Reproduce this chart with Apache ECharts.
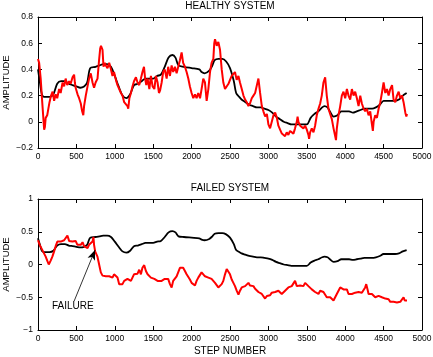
<!DOCTYPE html>
<html><head><meta charset="utf-8">
<script src="https://cdn.jsdelivr.net/npm/echarts@6/dist/echarts.min.js"></script>
<style>html,body{margin:0;padding:0;background:#fff}#c{width:433px;height:357px}</style>
</head><body><div id="c"></div>
<script>
// Reference (black) curve, same in both panels: [step, amplitude]
const referenceBlack = [[0,0.40],[25,0.30],[50,0.21],[80,0.19],[150,0.19],[200,0.21],[250,0.29],[300,0.31],[350,0.31],[400,0.29],[450,0.28],[500,0.27],[550,0.26],[600,0.27],[640,0.30],[680,0.41],[750,0.42],[800,0.43],[850,0.44],[900,0.44],[950,0.42],[1000,0.35],[1050,0.27],[1100,0.20],[1150,0.18],[1200,0.21],[1250,0.28],[1300,0.29],[1350,0.31],[1400,0.33],[1450,0.33],[1500,0.33],[1550,0.35],[1600,0.36],[1650,0.42],[1700,0.49],[1750,0.51],[1790,0.49],[1830,0.43],[1900,0.42],[2000,0.41],[2100,0.40],[2130,0.38],[2170,0.37],[2230,0.39],[2270,0.43],[2300,0.47],[2350,0.48],[2400,0.48],[2450,0.46],[2500,0.41],[2550,0.31],[2580,0.22],[2620,0.19],[2650,0.17],[2700,0.15],[2750,0.13],[2800,0.12],[2850,0.11],[2900,0.11],[2950,0.10],[3000,0.09],[3050,0.07],[3100,0.04],[3150,0.02],[3200,0.0],[3250,-0.01],[3300,-0.02],[3400,-0.02],[3500,-0.02],[3550,0.03],[3600,0.06],[3650,0.08],[3700,0.11],[3730,0.12],[3770,0.11],[3800,0.08],[3850,0.04],[3900,0.05],[3950,0.08],[4000,0.08],[4050,0.08],[4100,0.07],[4150,0.08],[4200,0.09],[4250,0.10],[4300,0.10],[4350,0.10],[4400,0.11],[4450,0.13],[4500,0.16],[4550,0.16],[4600,0.16],[4650,0.16],[4700,0.17],[4750,0.20],[4800,0.22]];

const healthyRed = [[0,0.48],[15,0.45],[35,0.33],[55,0.15],[80,-0.06],[90,-0.04],[100,0.03],[120,0.05],[135,0.1],[150,0.15],[170,0.2],[190,0.23],[210,0.16],[230,0.21],[250,0.18],[275,0.25],[295,0.22],[320,0.3],[340,0.27],[360,0.33],[380,0.28],[405,0.31],[425,0.29],[450,0.34],[470,0.36],[480,0.3],[490,0.26],[515,0.21],[535,0.18],[557,0.14],[575,0.08],[590,0.05],[600,0.12],[622,0.2],[645,0.27],[665,0.33],[687,0.37],[710,0.3],[730,0.26],[750,0.3],[775,0.33],[795,0.47],[810,0.56],[820,0.58],[840,0.55],[853,0.42],[870,0.45],[883,0.43],[905,0.41],[927,0.45],[950,0.4],[970,0.35],[990,0.38],[1014,0.32],[1035,0.28],[1057,0.27],[1080,0.22],[1100,0.2],[1122,0.15],[1145,0.14],[1165,0.12],[1175,0.1],[1190,0.18],[1210,0.22],[1230,0.27],[1250,0.31],[1275,0.34],[1296,0.3],[1318,0.28],[1340,0.33],[1360,0.38],[1380,0.42],[1395,0.33],[1410,0.28],[1427,0.33],[1450,0.25],[1470,0.35],[1492,0.27],[1515,0.25],[1535,0.35],[1557,0.3],[1575,0.22],[1590,0.24],[1610,0.3],[1630,0.38],[1650,0.4],[1675,0.33],[1695,0.42],[1718,0.35],[1740,0.43],[1760,0.38],[1783,0.42],[1805,0.37],[1826,0.42],[1848,0.47],[1870,0.53],[1890,0.45],[1913,0.42],[1935,0.38],[1957,0.33],[1978,0.27],[2000,0.22],[2022,0.18],[2044,0.21],[2065,0.18],[2087,0.22],[2110,0.18],[2130,0.25],[2152,0.33],[2174,0.3],[2196,0.16],[2218,0.25],[2240,0.38],[2260,0.45],[2283,0.48],[2295,0.6],[2305,0.63],[2327,0.58],[2348,0.61],[2370,0.55],[2392,0.4],[2413,0.3],[2435,0.25],[2457,0.24],[2480,0.29],[2500,0.32],[2522,0.35],[2544,0.36],[2565,0.38],[2587,0.32],[2610,0.35],[2630,0.3],[2653,0.25],[2675,0.2],[2697,0.17],[2718,0.15],[2740,0.12],[2760,0.14],[2783,0.18],[2805,0.2],[2827,0.22],[2850,0.28],[2870,0.33],[2892,0.22],[2914,0.12],[2935,0.08],[2957,0.04],[2980,0.06],[3000,-0.02],[3022,-0.05],[3044,0.0],[3066,0.05],[3088,0.07],[3110,0.03],[3130,-0.03],[3152,-0.06],[3175,-0.09],[3195,-0.08],[3217,-0.11],[3239,-0.08],[3260,-0.1],[3282,-0.07],[3304,-0.06],[3326,-0.09],[3347,-0.05],[3370,0.0],[3380,0.04],[3391,0.0],[3413,-0.03],[3435,-0.02],[3456,-0.05],[3478,-0.03],[3500,-0.06],[3521,-0.1],[3530,-0.13],[3543,-0.08],[3565,-0.05],[3587,-0.08],[3608,-0.03],[3630,0.05],[3652,0.1],[3674,0.14],[3695,0.2],[3717,0.3],[3739,0.34],[3760,0.2],[3782,0.1],[3804,0.06],[3826,0.02],[3848,-0.05],[3870,-0.11],[3880,-0.14],[3891,-0.05],[3913,0.05],[3935,0.12],[3956,0.2],[3978,0.23],[4000,0.18],[4022,0.25],[4043,0.2],[4065,0.17],[4087,0.25],[4109,0.2],[4130,0.23],[4152,0.18],[4174,0.12],[4196,0.2],[4217,0.14],[4240,0.1],[4260,0.08],[4282,0.1],[4304,0.05],[4326,0.08],[4348,-0.02],[4360,-0.07],[4370,0.0],[4391,0.05],[4413,0.03],[4435,0.1],[4457,0.15],[4478,0.22],[4500,0.3],[4522,0.22],[4544,0.25],[4565,0.2],[4587,0.25],[4610,0.28],[4630,0.17],[4652,0.15],[4674,0.2],[4696,0.23],[4717,0.18],[4740,0.2],[4760,0.15],[4783,0.07],[4796,0.04],[4805,0.06]];

const failedRed = [[0,0.37],[22,0.3],[57,0.22],[100,0.12],[120,0.06],[140,0.0],[165,0.06],[187,0.12],[210,0.2],[230,0.28],[252,0.35],[275,0.33],[296,0.35],[317,0.32],[340,0.37],[360,0.4],[383,0.44],[405,0.36],[426,0.33],[448,0.35],[470,0.32],[490,0.36],[513,0.3],[535,0.33],[557,0.3],[580,0.34],[600,0.28],[622,0.3],[645,0.25],[665,0.3],[687,0.28],[710,0.35],[722,0.42],[730,0.3],[744,0.2],[760,0.17],[774,0.12],[787,0.05],[805,-0.05],[818,-0.12],[840,-0.17],[860,-0.15],[883,-0.18],[905,-0.15],[927,-0.18],[950,-0.16],[970,-0.2],[990,-0.15],[1014,-0.17],[1035,-0.2],[1057,-0.3],[1080,-0.33],[1100,-0.3],[1122,-0.25],[1145,-0.28],[1165,-0.22],[1190,-0.2],[1210,-0.25],[1230,-0.2],[1250,-0.15],[1275,-0.18],[1296,-0.14],[1318,-0.08],[1340,-0.15],[1360,-0.05],[1383,-0.01],[1405,-0.1],[1427,-0.15],[1450,-0.18],[1470,-0.2],[1492,-0.17],[1515,-0.22],[1535,-0.2],[1557,-0.25],[1580,-0.23],[1610,-0.25],[1630,-0.27],[1650,-0.22],[1675,-0.25],[1695,-0.22],[1718,-0.3],[1740,-0.35],[1760,-0.25],[1783,-0.23],[1805,-0.18],[1826,-0.15],[1848,-0.05],[1870,-0.03],[1890,-0.05],[1913,-0.1],[1935,-0.15],[1957,-0.18],[1978,-0.23],[2000,-0.28],[2022,-0.3],[2044,-0.32],[2065,-0.25],[2087,-0.2],[2110,-0.17],[2130,-0.12],[2152,-0.14],[2174,-0.18],[2196,-0.15],[2218,-0.2],[2240,-0.2],[2260,-0.22],[2283,-0.25],[2305,-0.28],[2327,-0.3],[2348,-0.35],[2370,-0.36],[2392,-0.3],[2413,-0.25],[2435,-0.15],[2457,-0.07],[2480,-0.1],[2500,-0.15],[2522,-0.23],[2544,-0.28],[2565,-0.33],[2587,-0.4],[2610,-0.46],[2630,-0.4],[2653,-0.35],[2675,-0.37],[2697,-0.33],[2718,-0.3],[2740,-0.28],[2760,-0.32],[2783,-0.3],[2805,-0.33],[2827,-0.37],[2850,-0.4],[2870,-0.42],[2892,-0.4],[2914,-0.45],[2935,-0.48],[2957,-0.52],[2980,-0.48],[3000,-0.45],[3022,-0.47],[3044,-0.43],[3066,-0.45],[3088,-0.42],[3110,-0.45],[3130,-0.4],[3152,-0.43],[3174,-0.45],[3195,-0.42],[3217,-0.4],[3239,-0.38],[3260,-0.35],[3282,-0.37],[3304,-0.33],[3326,-0.3],[3347,-0.25],[3370,-0.33],[3391,-0.35],[3413,-0.32],[3435,-0.35],[3456,-0.33],[3478,-0.28],[3500,-0.27],[3521,-0.33],[3543,-0.35],[3565,-0.38],[3587,-0.4],[3608,-0.42],[3630,-0.4],[3652,-0.45],[3674,-0.4],[3695,-0.38],[3717,-0.42],[3739,-0.45],[3760,-0.5],[3782,-0.53],[3804,-0.5],[3826,-0.48],[3848,-0.55],[3870,-0.52],[3891,-0.45],[3913,-0.42],[3935,-0.35],[3956,-0.36],[3978,-0.38],[4000,-0.4],[4022,-0.38],[4043,-0.45],[4065,-0.42],[4087,-0.45],[4109,-0.47],[4130,-0.43],[4152,-0.45],[4174,-0.42],[4196,-0.45],[4217,-0.43],[4240,-0.4],[4260,-0.35],[4274,-0.3],[4295,-0.4],[4304,-0.45],[4326,-0.47],[4348,-0.45],[4370,-0.48],[4391,-0.5],[4413,-0.47],[4435,-0.48],[4457,-0.45],[4478,-0.5],[4500,-0.48],[4522,-0.52],[4544,-0.5],[4565,-0.53],[4587,-0.57],[4610,-0.55],[4630,-0.57],[4652,-0.6],[4674,-0.58],[4696,-0.6],[4717,-0.57],[4740,-0.55],[4760,-0.5],[4775,-0.55],[4790,-0.53],[4805,-0.55]];

// Failure annotation: arrow from label to failure point [step, amplitude]
const failureArrowFrom = [470, -0.56];
const failureArrowTo = [743, 0.22];

const FONT = 'Liberation Sans, Arial, Helvetica, sans-serif';
const fmtY = v => String(v).replace('-', '\u2212');
const fmtX = v => String(v);

function xAx(grid, pos, showLabel, name) {
  return {
    type: 'value', gridIndex: grid, position: pos, min: 0, max: 5000, interval: 500,
    axisLine: { show: true, onZero: false, lineStyle: { color: '#000', width: 1 } },
    axisTick: { show: true, inside: true, length: 4, lineStyle: { color: '#000' } },
    axisLabel: { show: showLabel, color: '#000', fontSize: 8.5, fontFamily: FONT, margin: 4, formatter: fmtX },
    splitLine: { show: false },
    name: name || '', nameLocation: 'middle', nameGap: 16, nameMoveOverlap: false,
    nameTextStyle: { color: '#000', fontSize: 10, fontFamily: FONT }
  };
}
function yAx(grid, pos, min, max, interval, showLabel, name) {
  return {
    type: 'value', gridIndex: grid, position: pos, min: min, max: max, interval: interval,
    axisLine: { show: true, onZero: false, lineStyle: { color: '#000', width: 1 } },
    axisTick: { show: true, inside: true, length: 4, lineStyle: { color: '#000' } },
    axisLabel: { show: showLabel, color: '#000', fontSize: 8.5, fontFamily: FONT, margin: 5, formatter: fmtY },
    splitLine: { show: false },
    name: name || '', nameLocation: 'middle', nameGap: 27, nameRotate: 90, nameMoveOverlap: false,
    nameTextStyle: { color: '#000', fontSize: 9.5, fontFamily: FONT }
  };
}

const chart = echarts.init(document.getElementById('c'), null, { renderer: 'canvas' });
chart.setOption({
  animation: false,
  backgroundColor: '#fff',
  title: [
    { text: 'HEALTHY SYSTEM', left: 230, top: 1, padding: 0, textAlign: 'center',
      textStyle: { fontSize: 10, fontWeight: 'normal', color: '#000', fontFamily: FONT } },
    { text: 'FAILED SYSTEM', left: 230, top: 183, padding: 0, textAlign: 'center',
      textStyle: { fontSize: 10, fontWeight: 'normal', color: '#000', fontFamily: FONT } }
  ],
  grid: [
    { left: 38, top: 17, width: 384, height: 131, containLabel: false, outerBoundsMode: 'none' },
    { left: 38, top: 199, width: 384, height: 131, containLabel: false, outerBoundsMode: 'none' }
  ],
  xAxis: [
    xAx(0, 'bottom', true),
    xAx(0, 'top', false),
    xAx(1, 'bottom', true, 'STEP NUMBER'),
    xAx(1, 'top', false)
  ],
  yAxis: [
    yAx(0, 'left', -0.2, 0.8, 0.2, true, 'AMPLITUDE'),
    yAx(0, 'right', -0.2, 0.8, 0.2, false),
    yAx(1, 'left', -1, 1, 0.5, true, 'AMPLITUDE'),
    yAx(1, 'right', -1, 1, 0.5, false)
  ],
  series: [
    { type: 'line', xAxisIndex: 0, yAxisIndex: 0, data: referenceBlack, showSymbol: false, smooth: 0.3,
      lineStyle: { color: '#000', width: 1.8 } },
    { type: 'line', xAxisIndex: 0, yAxisIndex: 0, data: healthyRed, showSymbol: false,
      lineStyle: { color: '#ff0000', width: 2 } },
    { type: 'line', xAxisIndex: 2, yAxisIndex: 2, data: referenceBlack, showSymbol: false, smooth: 0.3,
      lineStyle: { color: '#000', width: 1.8 } },
    { type: 'line', xAxisIndex: 2, yAxisIndex: 2, data: failedRed, showSymbol: false,
      lineStyle: { color: '#ff0000', width: 2 },
      markLine: {
        silent: true, animation: false, symbol: ['none', 'arrow'], symbolSize: [0, 8],
        label: { show: false },
        emphasis: { disabled: true },
        lineStyle: { color: '#000', width: 0.8, type: 'solid' },
        data: [[{ coord: failureArrowFrom }, { coord: failureArrowTo, symbol: 'arrow', symbolSize: [6, 10],
          itemStyle: { color: '#000' } }]]
      }
    }
  ],
  graphic: [
    { type: 'text', left: 52, top: 301,
      style: { text: 'FAILURE', fontSize: 10, fontFamily: FONT, fill: '#000' } }
  ]
});
</script></body></html>
